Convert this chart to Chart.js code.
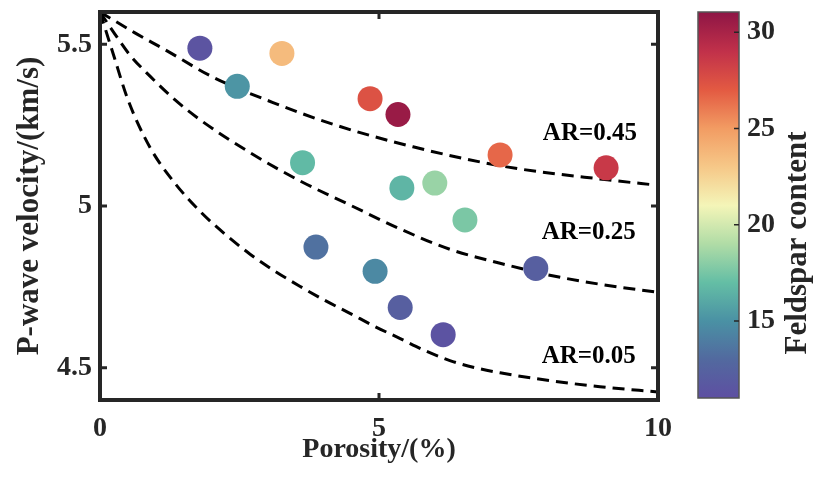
<!DOCTYPE html>
<html>
<head>
<meta charset="utf-8">
<script src="https://cdn.jsdelivr.net/npm/chart.js@4"></script>
<style>
  html, body { margin: 0; padding: 0; background: #fff; }
  #wrap { position: relative; width: 813px; height: 481px; }
  #main { position: absolute; left: 0; top: 0; }
  #cbar { position: absolute; left: 680px; top: 0; }
</style>
</head>
<body>
<div id="wrap">
  <canvas id="main" width="680" height="481"></canvas>
  <canvas id="cbar" width="133" height="481"></canvas>
</div>
<script>
// Samples: porosity (%), P-wave velocity (km/s), feldspar content
const porosity = [1.79, 3.26, 2.46, 4.84, 5.34, 3.63, 7.17, 9.07, 5.41, 6.00, 6.54, 3.87, 4.93, 5.38, 6.15, 7.81];
const vp       = [5.488, 5.472, 5.370, 5.332, 5.283, 5.134, 5.158, 5.118, 5.056, 5.071, 4.957, 4.873, 4.798, 4.686, 4.602, 4.807];
const feldspar = [11.4, 23.6, 15.2, 27.4, 30.6, 16.8, 26.6, 28.6, 16.6, 18.4, 17.6, 13.4, 14.6, 12.2, 11.3, 12.2];

// Model curves (aspect ratio)
const ar45X = [0, 0.61, 1.16, 2.03, 3.10, 4.19, 5.61, 7.29, 9.09, 10];
const ar45Y = [5.6, 5.537, 5.484, 5.398, 5.320, 5.252, 5.183, 5.121, 5.081, 5.064];
const ar25X = [0, 0.27, 0.54, 0.90, 1.34, 1.79, 2.69, 3.58, 4.48, 5.38, 6.27, 7.17, 8.06, 8.96, 10];
const ar25Y = [5.6, 5.531, 5.466, 5.401, 5.329, 5.267, 5.165, 5.078, 5.003, 4.929, 4.866, 4.823, 4.786, 4.758, 4.733];
const ar05X = [0, 0.25, 0.50, 0.90, 1.34, 1.79, 2.24, 2.69, 3.14, 3.58, 4.03, 4.48, 4.93, 5.38, 5.82, 6.27, 6.72, 7.17, 8.06, 8.96, 10];
const ar05Y = [5.6, 5.463, 5.329, 5.180, 5.071, 4.984, 4.913, 4.851, 4.798, 4.752, 4.708, 4.668, 4.627, 4.590, 4.553, 4.522, 4.500, 4.484, 4.460, 4.441, 4.425];

const arLabels = ["AR=0.45", "AR=0.25", "AR=0.05"];
const arLabelX = [8.78, 8.76, 8.76];
const arLabelY = [5.224, 4.919, 4.534];

const xTicks = [0, 5, 10];
const yTicks = [4.5, 5, 5.5];
const cbTicks = [15, 20, 25, 30];
const cbMin = 11, cbMax = 31.05;

// colormap (Spectral-like, low -> high)
const cmapValues = [11, 13, 15, 17, 19, 21, 23, 25, 27, 29, 31.05];
const cmapColors = ["#5e4fa2", "#52699f", "#4a91a4", "#64bea5", "#b0dca6", "#f4f5b8",
                    "#f6c888", "#f29c63", "#e35a42", "#c1314a", "#8e1545"];

const FONT = "'Liberation Serif', 'Times New Roman', serif";
const INK = "#262626";

function hexToRgb(h) {
  return [parseInt(h.slice(1, 3), 16), parseInt(h.slice(3, 5), 16), parseInt(h.slice(5, 7), 16)];
}

function colorFor(v) {
  if (v <= cmapValues[0]) return cmapColors[0];
  for (let i = 1; i < cmapValues.length; i++) {
    if (v <= cmapValues[i]) {
      const t = (v - cmapValues[i - 1]) / (cmapValues[i] - cmapValues[i - 1]);
      const a = hexToRgb(cmapColors[i - 1]), b = hexToRgb(cmapColors[i]);
      const c = a.map((x, k) => Math.round(x + (b[k] - x) * t));
      return "rgb(" + c.join(",") + ")";
    }
  }
  return cmapColors[cmapColors.length - 1];
}

function toXY(xs, ys) {
  return xs.map((x, i) => ({ x: x, y: ys[i] }));
}

function curve(xs, ys) {
  return {
    type: "line",
    data: toXY(xs, ys),
    borderColor: "#000",
    borderWidth: 3,
    borderDash: [12, 7],
    pointRadius: 0,
    fill: false,
    cubicInterpolationMode: "monotone",
    order: 2
  };
}

// box + inward ticks + AR labels
const boxPlugin = {
  id: "box",
  afterDraw(chart) {
    const ctx = chart.ctx;
    const a = chart.chartArea;
    const xs = chart.scales.x, ys = chart.scales.y;
    ctx.save();

    ctx.fillStyle = "#000";
    ctx.font = "bold 25px " + FONT;
    ctx.textAlign = "center";
    ctx.textBaseline = "middle";
    arLabels.forEach((t, i) => {
      ctx.fillText(t, xs.getPixelForValue(arLabelX[i]), ys.getPixelForValue(arLabelY[i]));
    });

    ctx.strokeStyle = INK;
    ctx.lineWidth = 3;
    const tl = 7;
    ctx.beginPath();
    xTicks.forEach(v => {
      const px = xs.getPixelForValue(v);
      ctx.moveTo(px, a.bottom); ctx.lineTo(px, a.bottom - tl);
      ctx.moveTo(px, a.top); ctx.lineTo(px, a.top + tl);
    });
    yTicks.forEach(v => {
      const py = ys.getPixelForValue(v);
      ctx.moveTo(a.left, py); ctx.lineTo(a.left + tl, py);
      ctx.moveTo(a.right, py); ctx.lineTo(a.right - tl, py);
    });
    ctx.stroke();

    ctx.lineWidth = 4;
    ctx.strokeRect(a.left, a.top, a.right - a.left, a.bottom - a.top);
    ctx.restore();
  }
};

const scatterData = porosity.map((p, i) => ({ x: p, y: vp[i], c: feldspar[i] }));

new Chart(document.getElementById("main"), {
  type: "scatter",
  data: {
    datasets: [
      curve(ar45X, ar45Y),
      curve(ar25X, ar25Y),
      curve(ar05X, ar05Y),
      {
        data: scatterData,
        pointRadius: 12.5,
        pointBorderWidth: 0,
        pointBackgroundColor: scatterData.map(d => colorFor(d.c)),
        pointBorderColor: scatterData.map(d => colorFor(d.c)),
        order: 1
      }
    ]
  },
  options: {
    responsive: false,
    animation: false,
    layout: { autoPadding: false, padding: { left: 0, right: 22, top: 12, bottom: 0 } },
    plugins: { legend: { display: false }, tooltip: { enabled: false } },
    scales: {
      x: {
        type: "linear",
        min: 0, max: 10,
        grid: { display: false, drawTicks: false },
        border: { display: false },
        afterBuildTicks: s => { s.ticks = xTicks.map(v => ({ value: v })); },
        afterFit: s => { s.height = 81; s.paddingLeft = 0; s.paddingRight = 0; },
        ticks: {
          color: INK, padding: 12,
          font: { family: FONT, size: 28, weight: "bold" },
          callback: v => String(v)
        },
        title: {
          display: true, text: "Porosity/(%)", color: INK,
          padding: { top: 0, bottom: 14 },
          font: { family: FONT, size: 28, weight: "bold" }
        }
      },
      y: {
        type: "linear",
        min: 4.4, max: 5.6,
        grid: { display: false, drawTicks: false },
        border: { display: false },
        afterBuildTicks: s => { s.ticks = yTicks.map(v => ({ value: v })); },
        afterFit: s => { s.width = 100; s.paddingTop = 0; s.paddingBottom = 0; },
        ticks: {
          color: INK, padding: 8,
          font: { family: FONT, size: 28, weight: "bold" },
          callback: v => String(v)
        },
        title: {
          display: true, text: "P-wave velocity/(km/s)", color: INK,
          padding: { top: 11, bottom: 0 },
          font: { family: FONT, size: 31, weight: "bold" }
        }
      }
    }
  },
  plugins: [boxPlugin]
});

// colorbar
const cbarPlugin = {
  id: "cbarFrame",
  afterDraw(chart) {
    const ctx = chart.ctx;
    const a = chart.chartArea;
    const ys = chart.scales.y;
    ctx.save();
    ctx.strokeStyle = "#555";
    ctx.lineWidth = 1.5;
    ctx.strokeRect(a.left, a.top, a.right - a.left, a.bottom - a.top);
    ctx.strokeStyle = INK;
    ctx.lineWidth = 1.5;
    ctx.beginPath();
    cbTicks.forEach(v => {
      const py = ys.getPixelForValue(v);
      ctx.moveTo(a.right, py); ctx.lineTo(a.right - 5, py);
    });
    ctx.stroke();

    ctx.translate(118, 243);
    ctx.rotate(-Math.PI / 2);
    ctx.fillStyle = INK;
    ctx.font = "bold 31px " + FONT;
    ctx.textAlign = "center";
    ctx.textBaseline = "middle";
    ctx.fillText("Feldspar content", 0, 0);
    ctx.restore();
  }
};

new Chart(document.getElementById("cbar"), {
  type: "bar",
  data: {
    labels: [""],
    datasets: [{
      data: [[cbMin, cbMax]],
      borderWidth: 0,
      barPercentage: 1,
      categoryPercentage: 1,
      backgroundColor: ctx => {
        const chart = ctx.chart;
        if (!chart.chartArea) return cmapColors[0];
        const ys = chart.scales.y;
        const g = chart.ctx.createLinearGradient(0, ys.getPixelForValue(cbMin), 0, ys.getPixelForValue(cbMax));
        cmapValues.forEach((v, i) => {
          g.addColorStop((v - cbMin) / (cbMax - cbMin), cmapColors[i]);
        });
        return g;
      }
    }]
  },
  options: {
    responsive: false,
    animation: false,
    layout: { autoPadding: false, padding: { left: 18, right: 0, top: 12, bottom: 83 } },
    plugins: { legend: { display: false }, tooltip: { enabled: false } },
    scales: {
      x: { display: false },
      y: {
        position: "right",
        min: cbMin, max: cbMax,
        grid: { display: false, drawTicks: false },
        border: { display: false },
        afterBuildTicks: s => { s.ticks = cbTicks.map(v => ({ value: v })); },
        afterFit: s => { s.width = 74; s.paddingTop = 0; s.paddingBottom = 0; },
        ticks: {
          color: INK, padding: 8,
          font: { family: FONT, size: 28, weight: "bold" },
          callback: v => String(v)
        }
      }
    }
  },
  plugins: [cbarPlugin]
});
</script>
</body>
</html>
